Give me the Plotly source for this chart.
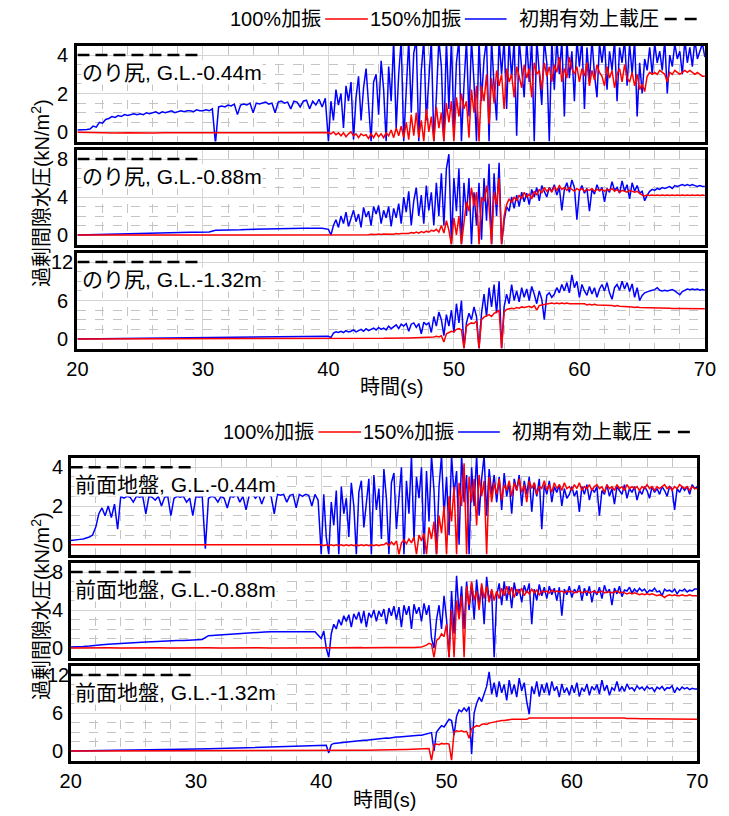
import numpy as np
import plotly.graph_objects as go

W, H = 729, 816
FONT = "Liberation Sans, Arial, Noto Sans CJK JP, sans-serif"

# ---------------- data ----------------
# Each series: quiet part (20-40 s) and active part (40-70 s), values evenly spaced in time
# のり尻 G.L.-0.44m
N044_150_A = [0.1, 0.1, 0.1, 0.12, 0.15, 0.3, 0.25, 0.5, 0.45, 0.65, 0.7,
              0.8, 0.75, 0.85, 0.8, 0.9, 0.85, 0.9, 0.95, 0.9,
              0.95, 0.9, 1.0, 0.95, 1.0, 1.05, 0.95, 1.05, 1.0, 1.05, 1.1, 1.0,
              1.05, 1.1, 1.05, 1.1, 1.1, 1.05, 1.15, 1.1, 1.1, 1.15, 1.1, 1.2,
              -0.6,
              1.3, 1.35, 1.3, 1.4, 1.35, 1.45, 0.9, 1.4, 1.45, 1.4, 1.5, 1.0,
              1.5, 1.45, 1.5, 1.55, 1.45, 1.5, 1.0, 1.55, 1.6, 1.5, 1.55, 1.2,
              1.6, 1.55, 1.3, 1.6, 1.65, 1.2, 1.6, 1.4, 1.7, 1.3, 1.75, -0.5]
N044_150_B = [-0.5, 1.6, 0.6, 2.2, 1.4, 2.0, 0.2, 2.4, 1.6, 2.6,
              -0.4, 1.8, 2.9, 0.6, 2.3, 3.3, 1.2, -0.5, 2.6, 3.0,
              0.9, 3.7, 2.2, -0.5, 3.4, 1.6, 4.8, 0.2, 3.0, 4.8,
              -0.5, 2.2, 4.8, 1.0, 4.1, 4.8, -0.5, 3.2, 4.8, 0.6,
              2.6, 4.8, -0.5, 1.8, 4.8, 3.4, -0.5, 4.8, 1.2, 4.8,
              0.2, 3.6, 4.8, -0.5, 2.4, 4.8, 0.8, 4.8, 2.6, -0.5,
              4.8, 1.6, 3.8, 4.8, -0.5, 4.8, 2.4, 0.6, 4.8, 3.0,
              4.8, 1.2, 4.8, 2.8, 4.8, -0.2, 4.8, 3.4, 1.8, 4.8,
              2.6, 4.8, -0.5, 4.8, 3.2, 1.4, 4.8, 3.6, -0.5, 4.8,
              2.2, 4.8, 3.0, 4.8, 0.8, 4.8, 2.8, 4.2, 1.6, 4.8,
              3.4, 4.8, 1.2, 4.4, 2.6, 4.8, 3.0, 1.8, 4.6, 3.6,
              4.8, 2.2, 4.2, 3.2, 4.8, 1.6, 4.4, 3.6, 4.8, 2.4,
              4.6, 3.0, 4.8, 0.8, 3.6, 2.0, 3.8, 3.2, 4.4, 3.0,
              4.6, 3.6, 4.2, 3.2, 4.8, 2.0, 4.0, 3.4, 4.6, 3.8,
              4.2, 3.0, 4.8, 3.6, 4.4, 3.4, 4.8, 3.8, 4.2, 4.6, 3.9]
N044_100_A = [-0.02, -0.04, -0.05, -0.06, -0.05, -0.07, -0.06, -0.05, -0.06, -0.05, -0.04,
              -0.05, -0.05, -0.04, -0.05, -0.05, -0.04, -0.05, -0.04, -0.03, -0.03]
N044_100_B = [-0.05, -0.1, 0.0, -0.15, -0.05, -0.2, -0.05, -0.25, -0.1, 0.0,
              -0.2, -0.1, -0.3, -0.1, -0.2, -0.15, -0.35, -0.1, -0.3, -0.05,
              -0.25, -0.1, -0.3, -0.05, -0.2, 0.1, -0.3, 0.2, -0.2, 0.3,
              -0.3, 0.5, -0.4, 0.9, -0.2, 1.0, -0.3, 0.6, -0.5, 1.2,
              0.0, 0.8, -0.5, 1.3, 0.2, 1.0, -0.5, 1.5, 0.5, 1.6,
              -0.5, 1.8, 0.8, 2.0, 1.2, 1.6, -0.3, 2.2, 1.0, 2.4,
              -0.5, 2.4, 1.6, 3.0, 0.4, 2.8, 1.5, 3.2, 2.4, 3.0,
              1.2, 3.3, 2.6, 3.0, 1.8, 3.4, 2.9, 2.3, 3.5, 2.8,
              3.3, 1.8, 3.6, 3.0, 3.2, 2.2, 3.6, 2.9, 3.4, 2.6,
              3.5, 3.1, 3.9, 2.6, 3.3, 2.8, 3.9, 3.3, 3.0, 3.4,
              2.6, 3.3, 2.9, 3.6, 2.4, 3.2, 2.7, 3.5, 3.1, 2.9,
              2.4, 3.4, 2.8, 3.2, 2.3, 3.0, 3.3, 2.6, 3.5, 2.8,
              2.6, 3.1, 2.4, 3.0, 2.2, 2.5, 2.1, 2.9, 3.1, 3.0,
              3.1, 3.0, 3.2, 3.1, 3.0, 2.6, 3.1, 3.0, 3.2, 3.1,
              3.0, 3.1, 3.2, 3.1, 3.2, 3.1, 3.0, 3.1, 3.0, 2.9, 2.9]

# のり尻 G.L.-0.88m
N088_150_A = [0.0, 0.02, 0.05, 0.05, 0.08, 0.1, 0.1, 0.12, 0.15, 0.15,
              0.18, 0.2, 0.2, 0.22, 0.25, 0.25, 0.28, 0.28, 0.3, 0.3,
              0.3, 0.32, 0.5, 0.5, 0.52, 0.55, 0.55, 0.58, 0.6, 0.6,
              0.62, 0.62, 0.65, 0.65, 0.68, 0.68, 0.7, 0.7, 0.72, 0.72, 0.6]
N088_150_B = [0.6, 0.0, 1.0, 1.6, 0.8, 2.0, 1.2, 2.4, 0.9, 1.8,
              2.6, 1.4, 2.2, 0.8, 2.9, 1.9, 2.5, 1.0, 3.0, 2.2,
              3.1, 1.2, 2.6, 1.8, 3.0, 0.9, 2.8, 1.8, 3.3, 1.2,
              4.0, 2.4, 4.6, 1.0, 3.6, 5.0, 2.0, 4.2, 1.2, 5.2,
              2.6, 4.5, 1.0, 5.5, 2.0, 6.5, 1.0, 7.0, 8.5, -1.0,
              6.0, 2.5, 7.0, -1.0, 5.5, 2.0, 6.0, -1.0, 4.5, 1.0,
              5.5, -0.5, 6.0, 1.5, 7.5, -1.0, 6.5, 2.0, 7.6, -1.0,
              1.5, 3.0, 2.5, 4.0, 2.8, 4.2, 3.0, 4.5, 3.5, 4.4,
              3.2, 4.8, 4.0, 5.0, 3.6, 5.2, 4.5, 4.0, 5.0, 4.6,
              5.3, 4.2, 5.0, 2.6, 4.8, 5.5, 4.5, 5.8, 5.0, 1.6,
              4.6, 5.2, 4.4, 4.9, 2.5, 4.8, 4.3, 5.3, 4.6, 5.0,
              3.5, 4.9, 4.5, 5.6, 4.7, 5.0, 4.4, 5.7, 4.6, 5.3,
              3.8, 5.5, 4.6, 5.2, 4.4, 4.6, 3.6, 4.2, 4.6, 4.8,
              4.7, 4.9, 4.8, 5.0, 4.9, 5.0, 5.1, 4.9, 5.2, 5.1,
              5.2, 5.3, 5.2, 5.3, 5.2, 5.3, 5.2, 5.1, 5.2, 5.1, 5.1]
N088_100_A = [0.0, 0.0, 0.0, 0.02, 0.0, 0.02, 0.0, 0.02, 0.0, 0.02, 0.02,
              0.0, 0.02, 0.02, 0.0, 0.02, 0.02, 0.02, 0.0, 0.02, 0.02]
N088_100_B = [0.02, 0.0, 0.05, 0.0, 0.05, 0.02, 0.05, 0.0, 0.05, 0.02,
              0.05, 0.0, 0.05, 0.02, 0.05, 0.05, 0.02, 0.08, 0.05, 0.05,
              0.1, 0.05, 0.1, 0.08, 0.1, 0.1, 0.08, 0.15, 0.1, 0.15,
              0.15, 0.2, 0.15, 0.25, 0.2, 0.3, 0.2, 0.35, 0.25, 0.4,
              0.3, 0.5, 0.4, 0.6, 0.3, 1.0, 0.2, 1.5, 0.5, -1.0,
              1.8, 0.0, 2.0, -1.0, 1.5, 3.5, 2.5, 5.0, 3.0, 4.5,
              -1.0, 4.0, 3.5, 5.2, 3.0, -1.0, 4.5, 3.2, 6.0, -1.0,
              2.0, 3.2, 3.8, 3.4, 4.0, 3.6, 4.2, 3.8, 4.5, 4.0,
              4.3, 3.8, 4.6, 4.2, 4.8, 4.4, 5.0, 4.6, 4.9, 4.5,
              5.1, 4.7, 5.2, 4.8, 5.0, 4.7, 5.0, 4.8, 4.6, 4.9,
              4.7, 4.9, 4.6, 4.8, 4.7, 4.9, 4.6, 4.8, 4.7, 4.8,
              4.6, 4.8, 4.7, 4.9, 4.6, 4.8, 4.5, 4.7, 4.6, 4.5,
              4.7, 4.6, 4.5, 4.6, 4.4, 4.2, 4.1, 4.2, 4.15, 4.2,
              4.15, 4.2, 4.15, 4.2, 4.15, 4.2, 4.15, 4.2, 4.15, 4.2,
              4.15, 4.2, 4.15, 4.2, 4.15, 4.2, 4.15, 4.2, 4.15, 4.2, 4.15]

# のり尻 G.L.-1.32m
N132_150_A = [0.0, 0.02, 0.05, 0.08, 0.1, 0.12, 0.15, 0.17, 0.2, 0.22, 0.25,
              0.27, 0.28, 0.3, 0.3, 0.32, 0.33, 0.35, 0.35, 0.37, 0.4]
N132_150_B = [0.4, 0.2, 0.9, 1.1, 1.0, 1.2, 1.0, 1.3, 1.1, 1.2,
              1.4, 1.1, 1.3, 1.5, 1.2, 1.6, 1.3, 1.5, 1.7, 1.4,
              1.8, 1.5, 1.7, 1.4, 2.0, 1.6, 1.9, 2.2, 1.6, 2.3,
              2.0, 2.4, 1.2, 2.3, 2.5, 1.8, 2.4, 0.8, 2.6, 2.2,
              2.5, 1.0, 3.5, 2.0, 4.2, 3.0, 0.5, 3.8, 2.0, 4.5,
              1.0, 5.5, 2.5, 6.0, -1.5, 2.5, 4.0, 3.0, 5.0, 3.5,
              -1.5, 4.0, 7.0, 3.5, 8.0, 5.0, 8.5, 4.0, 9.0, -1.5,
              5.0, 7.0, 5.5, 8.5, 6.0, 7.5, 5.8, 8.0, 6.5, 7.8,
              6.0, 8.2, 7.0, 5.5, 7.5, 6.2, 3.0, 6.8, 7.2, 6.5,
              7.0, 8.0, 7.2, 8.5, 7.5, 8.8, 7.2, 10.0, 8.0, 9.0,
              6.5, 8.5, 7.5, 6.8, 8.2, 7.0, 8.0, 6.5, 7.8, 8.5,
              7.5, 8.8, 7.2, 6.2, 8.0, 8.5, 7.6, 9.0, 7.8, 8.8,
              7.4, 8.6, 6.5, 8.0, 6.0, 6.8, 7.2, 7.4, 7.5, 7.6,
              7.7, 8.0, 7.6, 7.5, 7.6, 7.5, 7.6, 7.7, 7.5, 7.2,
              6.9, 7.4, 7.6, 7.8, 7.7, 7.8, 7.7, 7.8, 7.6, 7.7, 7.6]
N132_100_A = [0.0, 0.0, 0.02, 0.0, 0.02, 0.0, 0.02, 0.02, 0.0, 0.02, 0.02,
              0.02, 0.0, 0.02, 0.02, 0.03, 0.02, 0.03, 0.02, 0.03, 0.03]
N132_100_B = [0.03, 0.05, 0.03, 0.05, 0.05, 0.05, 0.06, 0.05, 0.07, 0.06,
              0.07, 0.08, 0.07, 0.08, 0.08, 0.09, 0.08, 0.1, 0.09, 0.1,
              0.1, 0.11, 0.1, 0.12, 0.11, 0.12, 0.13, 0.12, 0.14, 0.13,
              0.14, 0.15, 0.14, 0.15, 0.16, 0.15, 0.17, 0.16, 0.18, 0.17,
              0.2, 0.25, 0.3, 0.4, 0.3, 0.5, -0.5, 0.8, 1.0, 1.2,
              1.1, 1.5, 1.6, 1.4, -1.5, 2.0, 2.3, 2.5, 2.4, 2.8,
              -1.5, 3.0, 3.4, 3.6, 3.8, 3.5, 4.0, 4.2, 4.5, -1.5,
              4.2, 4.6, 4.7, 4.8, 4.7, 4.9, 4.8, 5.0, 4.9, 5.0,
              5.1, 4.9, 5.2, 4.5, 5.2, 5.3, 5.4, 5.5, 5.5, 5.6,
              5.5, 5.6, 5.5, 5.6, 5.5, 5.6, 5.5, 5.5, 5.4, 5.5,
              5.4, 5.4, 5.5, 5.3, 5.4, 5.3, 5.4, 5.3, 5.3, 5.3,
              5.2, 5.3, 5.2, 5.2, 5.1, 5.2, 5.1, 5.1, 5.0, 5.1,
              5.0, 5.0, 4.9, 5.0, 4.9, 4.9, 4.9, 4.8, 4.9, 4.8,
              4.8, 4.8, 4.8, 4.8, 4.8, 4.8, 4.8, 4.75, 4.8, 4.75,
              4.75, 4.75, 4.75, 4.7, 4.75, 4.7, 4.7, 4.7, 4.7, 4.7, 4.7]

# 前面地盤 G.L.-0.44m
Z044_150_A = [0.22, 0.25, 0.25, 0.28, 0.3, 0.35, 0.4, 0.5, 0.9, 1.6, 1.9, 1.5,
              2.0, 1.4, 2.1, 0.8, 2.5, 2.4, 2.5, 2.45, 2.2, 2.5, 2.45, 2.5,
              1.6, 2.5, 2.45, 2.3, 2.5, 2.0, 2.45, 2.5, 1.5, 2.4, 2.5, 2.45,
              2.5, 2.2, 2.4, 1.5, 2.5, 2.45, 2.5, -0.2, 2.4, 2.5, 2.45, 2.2,
              2.5, 2.4, 1.9, 2.5, 2.45, 2.6, 2.2, 2.5, 1.8, 2.55, 2.6, 2.4,
              2.6, 2.1, 2.55, 2.6, 2.5, 1.6, 2.6, 2.55, 2.6, 2.2, 2.55, 2.6,
              1.9, 2.6, 2.5, 2.6, 2.55, 2.0, 2.6, 2.3, -0.5]
Z044_150_B = [-0.5, 2.6, 0.4, -0.5, 2.2, 1.0, 2.8, -0.5, 3.0, 1.6,
              2.4, 0.4, 3.2, 2.0, -0.5, 2.7, 3.3, 0.9, 2.2, 3.4,
              -0.5, 3.6, 1.8, 2.9, 0.3, 3.9, 2.4, -0.5, 3.2, 3.7,
              0.8, 2.6, 4.0, -0.5, 3.3, 1.6, 4.6, 0.2, 3.5, 2.4,
              4.0, -0.5, 3.8, 1.2, 4.6, 2.8, -0.5, 3.0, 4.6, 1.5,
              3.5, 0.5, 4.6, 2.6, 3.8, 0.0, 4.6, 2.2, 3.6, -0.5,
              4.0, 2.0, 4.6, 1.5, 3.4, 4.6, 1.5, 3.9, 2.6, 3.6,
              2.2, 3.5, 1.8, 3.7, 2.5, 3.2, 1.6, 3.4, 2.8, 3.6,
              2.0, 3.3, 2.6, 3.5, 1.7, 3.2, 2.5, 3.4, 0.8, 3.1,
              2.6, 3.3, 2.2, 3.0, 2.7, 3.1, 2.0, 2.9, 2.4, 2.6,
              3.0, 2.5, 2.8, 1.7, 3.0, 2.6, 3.1, 2.3, 2.9, 2.7,
              3.0, 1.5, 2.8, 2.6, 3.1, 2.5, 2.9, 2.1, 3.0, 2.8,
              2.6, 3.1, 2.4, 2.9, 2.7, 3.0, 2.3, 2.8, 2.6, 3.0,
              2.8, 2.4, 3.0, 2.7, 2.9, 2.6, 3.0, 2.8, 2.5, 3.0,
              2.9, 1.8, 2.9, 2.7, 3.0, 2.8, 3.0, 2.6, 3.1, 2.9, 3.0]
Z044_100_A = [0.0, 0.0, 0.0, 0.0, 0.0, 0.0, 0.0, 0.0, 0.0, 0.0, 0.0,
              0.0, 0.0, 0.0, 0.0, 0.0, 0.0, 0.0, 0.0, 0.0, 0.0]
Z044_100_B = [0.0, -0.05, 0.0, -0.05, 0.0, -0.05, 0.0, -0.05, 0.0, -0.05,
              0.0, -0.05, 0.0, -0.05, 0.0, -0.05, 0.0, -0.05, 0.0, -0.05,
              0.0, -0.05, 0.0, -0.05, 0.0, 0.0, 0.1, -0.05, 0.15, 0.0,
              0.2, -0.5, 0.1, 0.25, 0.05, 0.3, 0.1, 0.4, -0.5, 0.5,
              0.2, 0.6, -0.5, 0.9, 0.3, 1.2, -0.5, 1.5, 0.6, 2.0,
              -0.5, 2.5, 1.2, 3.0, -0.5, 3.2, 2.0, 4.2, -0.5, 3.5,
              2.2, 3.4, 1.0, 3.6, 2.5, 3.3, -0.5, 3.5, 2.2, 3.2,
              2.6, 3.4, 2.3, 3.1, 2.8, 3.3, 2.5, 3.2, 2.8, 3.4,
              2.7, 3.1, 2.2, 3.3, 2.9, 3.2, 2.6, 3.0, 2.9, 3.3,
              2.8, 3.1, 2.7, 3.2, 2.9, 3.1, 2.8, 3.2, 2.9, 3.0,
              2.8, 3.1, 2.9, 3.2, 2.8, 3.0, 2.9, 3.1, 2.8, 3.0,
              3.1, 2.9, 3.0, 2.7, 3.1, 2.9, 3.0, 2.8, 3.1, 2.9,
              3.0, 2.8, 3.1, 2.9, 3.0, 2.9, 3.0, 2.8, 3.0, 2.9,
              3.1, 2.9, 3.0, 2.8, 3.0, 2.9, 3.0, 3.1, 2.9, 3.0,
              2.8, 3.0, 2.9, 3.1, 3.0, 2.9, 3.0, 2.8, 3.0, 2.9, 2.9]

# 前面地盤 G.L.-0.88m
Z088_150_A = [0.1, 0.1, 0.15, 0.2, 0.3, 0.35, 0.4, 0.45, 0.5, 0.52,
              0.55, 0.6, 0.62, 0.65, 0.7, 0.72, 0.75, 0.78, 0.8, 0.82,
              0.85, 0.9, 1.3, 1.35, 1.4, 1.45, 1.5, 1.55, 1.6, 1.62,
              1.65, 1.68, 1.7, 1.7, 1.7, 1.72, 1.7, 1.72, 1.7, 1.72, 1.0]
Z088_150_B = [1.0, 1.8, 0.0, -1.0, 1.5, 2.5, 2.0, 3.0, 2.4, 3.4,
              2.8, 3.5, 2.2, 3.6, 3.0, 3.8, 2.6, 3.9, 2.2, 3.7,
              3.2, 4.0, 2.8, 3.9, 3.3, 4.1, 2.5, 4.2, 3.4, 4.4,
              3.0, 4.3, 2.2, 4.5, 3.5, 4.4, 2.0, 4.6, 3.6, 4.3,
              2.8, 4.7, 3.5, 4.5, 1.0, 0.0, 3.0, 4.5, 2.0, 5.5,
              3.0, -1.0, 6.0, 1.5, 7.6, 3.5, 6.5, 2.0, 7.0, 4.0,
              6.8, 3.0, 7.2, 4.5, 6.5, 2.5, 7.5, 5.0, 6.0, -1.0,
              5.5, 6.8, 4.5, 7.0, 5.0, 6.5, 4.2, 6.9, 5.5, 6.2,
              4.8, 6.6, 5.8, 6.8, 2.5, 6.2, 5.0, 6.7, 5.5, 6.4,
              5.2, 6.5, 5.6, 6.3, 5.0, 6.4, 3.4, 6.2, 5.6, 6.5,
              5.3, 6.2, 5.8, 6.6, 5.0, 6.3, 5.5, 6.5, 4.8, 6.1,
              5.6, 6.4, 5.2, 6.6, 5.8, 6.2, 4.5, 6.3, 5.7, 6.5,
              5.4, 6.1, 6.0, 6.4, 5.8, 6.2, 5.9, 6.3, 6.0, 6.2,
              5.8, 6.1, 6.0, 6.3, 5.9, 6.0, 5.5, 6.2, 6.0, 6.1,
              5.9, 6.2, 5.7, 6.1, 6.0, 6.2, 5.9, 6.1, 6.0, 6.2, 6.2]
Z088_100_A = [0.0, 0.02, 0.0, 0.02, 0.0, 0.02, 0.0, 0.02, 0.0, 0.02, 0.0,
              0.02, 0.0, 0.02, 0.0, 0.02, 0.0, 0.02, 0.0, 0.02, 0.02]
Z088_100_B = [0.02, 0.03, 0.02, 0.03, 0.02, 0.03, 0.03, 0.02, 0.03, 0.03,
              0.03, 0.04, 0.03, 0.04, 0.03, 0.04, 0.04, 0.03, 0.04, 0.04,
              0.04, 0.05, 0.04, 0.05, 0.04, 0.05, 0.05, 0.04, 0.05, 0.05,
              0.05, 0.06, 0.05, 0.06, 0.05, 0.06, 0.06, 0.05, 0.06, 0.06,
              0.1, 0.2, 0.3, 0.5, 0.4, -1.0, 0.8, 1.0, 1.5, 1.2,
              2.5, -1.0, 4.0, -1.0, 5.0, 3.0, 5.5, -1.0, 6.5, 4.5,
              7.0, 5.0, 6.0, 4.0, 6.8, 5.2, 6.5, 4.8, 6.2, 5.0,
              6.0, 5.2, 6.3, 5.5, 6.5, 5.6, 6.4, 5.3, 6.2, 5.8,
              6.3, 5.5, 6.0, 5.7, 6.2, 5.8, 6.1, 5.6, 6.0, 5.9,
              6.0, 5.8, 6.1, 5.9, 6.0, 5.9, 6.0, 5.8, 6.0, 5.9,
              6.0, 5.8, 5.9, 6.0, 5.8, 5.9, 6.0, 5.8, 5.9, 6.0,
              5.8, 5.9, 6.0, 5.8, 5.9, 5.9, 5.8, 5.9, 6.0, 5.8,
              5.9, 5.8, 5.7, 5.8, 5.7, 5.8, 5.7, 5.6, 5.7, 5.6,
              5.7, 5.6, 5.7, 5.6, 5.5, 5.6, 5.5, 5.3, 5.5, 5.6,
              5.5, 5.6, 5.5, 5.5, 5.6, 5.5, 5.5, 5.6, 5.5, 5.5, 5.5]

# 前面地盤 G.L.-1.32m
Z132_150_A = [0.0, 0.02, 0.05, 0.08, 0.1, 0.12, 0.15, 0.2, 0.22, 0.25, 0.3,
              0.35, 0.4, 0.45, 0.5, 0.55, 0.6, 0.65, 0.7, 0.75, 0.8]
Z132_150_B = [0.85, 0.9, 0.9, -0.3, 1.0, 1.2, 1.25, 1.3, 1.3, 1.35,
              1.4, 1.45, 1.5, 1.5, 1.55, 1.6, 1.65, 1.7, 1.7, 1.75,
              1.8, 1.85, 1.9, 1.85, 1.95, 2.0, 2.05, 2.0, 2.1, 2.15,
              2.2, 2.2, 2.25, 2.3, 2.3, 2.35, 2.4, 2.4, 2.45, 2.5,
              2.5, 2.6, 2.7, 2.8, 2.9, 0.0, 3.0, 3.5, 4.0, 3.8,
              4.5, 5.0, 4.8, 2.5, 5.5, 6.5, 6.2, 6.8, 6.3, 7.0,
              -0.5, 6.0, 7.5, 8.5, 7.8, 9.0, 10.2, 12.5, 9.0, 10.8,
              8.5, 11.0, 9.2, 10.5, 8.0, 11.2, 9.0, 10.5, 8.5, 11.5,
              9.5, 10.8, 7.8, 5.8, 10.2, 9.0, 11.0, 8.6, 10.5, 9.2,
              10.8, 8.8, 11.0, 9.5, 10.2, 8.5, 10.6, 9.2, 10.0, 8.8,
              10.4, 9.2, 10.8, 8.6, 10.0, 9.4, 10.6, 8.8, 10.2, 9.6,
              10.5, 9.0, 11.2, 9.5, 10.4, 8.8, 10.0, 9.6, 11.0, 9.4,
              10.2, 9.4, 10.6, 9.8, 10.0, 9.5, 10.3, 9.8, 10.1, 9.6,
              10.2, 9.8, 10.0, 9.4, 10.1, 9.8, 10.2, 9.6, 10.0, 9.9,
              10.3, 9.2, 10.0, 9.6, 10.1, 9.8, 10.0, 9.7, 9.9, 9.8, 9.8]
Z132_100_A = [0.0, 0.0, 0.0, 0.0, 0.0, 0.0, 0.0, 0.0, 0.0, 0.0, 0.0,
              0.0, 0.0, 0.0, 0.0, 0.0, 0.0, 0.0, 0.0, 0.0, 0.0]
Z132_100_B = [0.0, 0.01, 0.02, 0.02, 0.03, 0.03, 0.04, 0.05, 0.05, 0.06,
              0.06, 0.07, 0.08, 0.08, 0.09, 0.1, 0.1, 0.11, 0.12, 0.12,
              0.13, 0.14, 0.14, 0.15, 0.16, 0.17, 0.17, 0.18, 0.19, 0.2,
              0.2, 0.21, 0.22, 0.23, 0.24, 0.25, 0.26, 0.27, 0.28, 0.29,
              0.3, 0.35, 0.3, 0.4, -1.5, 1.0, 1.1, 1.0, 1.2, 1.1,
              1.2, 1.1, -1.5, 3.0, 3.2, 3.1, 3.2, 3.0, 3.1, 2.0,
              3.5, 3.8, 4.0, 3.9, 4.2, 4.3, 4.2, 4.4, 4.5, 4.6,
              4.6, 4.7, 4.8, 4.8, 4.9, 4.9, 5.0, 5.0, 5.0, 5.1,
              5.1, 5.1, 5.0, 5.2, 5.2, 5.2, 5.2, 5.25, 5.2, 5.25,
              5.25, 5.25, 5.25, 5.3, 5.25, 5.3, 5.25, 5.3, 5.3, 5.25,
              5.3, 5.25, 5.3, 5.3, 5.25, 5.3, 5.25, 5.3, 5.25, 5.25,
              5.3, 5.25, 5.25, 5.2, 5.25, 5.25, 5.2, 5.25, 5.2, 5.2,
              5.2, 5.2, 5.15, 5.2, 5.15, 5.15, 5.1, 5.15, 5.1, 5.1,
              5.1, 5.05, 5.1, 5.05, 5.05, 5.05, 5.0, 5.05, 5.0, 5.0,
              5.0, 5.0, 5.0, 5.0, 5.0, 5.0, 5.0, 5.0, 5.0, 5.0, 5.0]

OVERBURDEN = [4, 8, 12]          # 初期有効上載圧 for G.L.-0.44 / -0.88 / -1.32 m
OVERBURDEN_T = [20, 30]          # time span of the dashed reference line
QUIET_T = [20, 40]
ACTIVE_T = [40, 70]

LABELS = ["のり尻, G.L.-0.44m", "のり尻, G.L.-0.88m", "のり尻, G.L.-1.32m",
          "前面地盤, G.L.-0.44m", "前面地盤, G.L.-0.88m", "前面地盤, G.L.-1.32m"]
SERIES_150 = [(N044_150_A, N044_150_B), (N088_150_A, N088_150_B), (N132_150_A, N132_150_B),
              (Z044_150_A, Z044_150_B), (Z088_150_A, Z088_150_B), (Z132_150_A, Z132_150_B)]
SERIES_100 = [(N044_100_A, N044_100_B), (N088_100_A, N088_100_B), (N132_100_A, N132_100_B),
              (Z044_100_A, Z044_100_B), (Z088_100_A, Z088_100_B), (Z132_100_A, Z132_100_B)]
LEGEND_NAMES = ["100%加振", "150%加振", "初期有効上載圧"]
Y_TITLE = "過剰間隙水圧(kN/m<sup>2</sup>)"
X_TITLE = "時間(s)"


def build(quiet, active):
    t = list(np.linspace(QUIET_T[0], QUIET_T[1], len(quiet)))
    t += list(np.linspace(ACTIVE_T[0], ACTIVE_T[1], len(active)))
    return t, list(quiet) + list(active)


# ---------------- layout geometry (pixels) ----------------
PANELS_PX = [(44, 143), (148, 246), (251, 350), (456, 556), (561, 659), (664, 762)]
XPX = [(67, 717)] * 3 + [(60, 709)] * 3
YLAB_CX = [53, 53, 53, 48, 48, 48]   # centre x of the (centre-aligned) y tick labels

fig = go.Figure()
layout = dict(width=W, height=H, margin=dict(l=0, r=0, t=0, b=0),
              paper_bgcolor="white", plot_bgcolor="white", showlegend=False,
              font=dict(family=FONT, size=20, color="black"))
annotations = []
shapes = []

for i in range(6):
    k = "" if i == 0 else str(i + 1)
    ob = OVERBURDEN[i % 3]
    top, bot = PANELS_PX[i]
    xl, xr = XPX[i]
    ydom = [1 - (bot - 1.5) / H, 1 - (top + 1.5) / H]
    xdom = [(xl + 1.5) / W, (xr - 1.5) / W]
    major = ob / 2
    layout["xaxis" + k] = dict(
        domain=xdom, range=[20, 70], anchor="y" + k, tick0=20, dtick=10,
        showline=True, mirror=True, linewidth=3, linecolor="black",
        showgrid=True, gridcolor="#d4d4d4", gridwidth=1, zeroline=False,
        ticks="", showticklabels=(i % 3 == 2), tickfont=dict(size=20, family=FONT),
        minor=dict(dtick=2, showgrid=True, gridcolor="#c4c4c4", griddash="dash", gridwidth=1),
    )
    layout["yaxis" + k] = dict(
        domain=ydom, range=[-ob / 8, ob * 9 / 8], anchor="x" + k, tick0=0, dtick=major,
        showline=True, mirror=True, linewidth=3, linecolor="black",
        showgrid=True, gridcolor="#d4d4d4", gridwidth=1, zeroline=False,
        ticks="", showticklabels=False,
        minor=dict(dtick=major / 4, showgrid=True, gridcolor="#c4c4c4", griddash="dash", gridwidth=1),
    )
    # centre-aligned y tick labels placed on the axis scale
    for v in (0, major, ob):
        annotations.append(dict(text=str(int(v)), xref="paper", yref="y" + k,
                                x=YLAB_CX[i] / W, y=v, xanchor="center", yanchor="middle",
                                showarrow=False, font=dict(size=20, family=FONT)))
    tb, vb = build(*SERIES_150[i])
    tr, vr = build(*SERIES_100[i])
    fig.add_trace(go.Scatter(x=tb, y=vb, mode="lines", name=LEGEND_NAMES[1],
                             line=dict(color="#0000ff", width=1.5), xaxis="x" + k, yaxis="y" + k))
    fig.add_trace(go.Scatter(x=tr, y=vr, mode="lines", name=LEGEND_NAMES[0],
                             line=dict(color="#ff0000", width=1.5), xaxis="x" + k, yaxis="y" + k))
    fig.add_trace(go.Scatter(x=OVERBURDEN_T, y=[ob, ob], mode="lines", name=LEGEND_NAMES[2],
                             line=dict(color="black", width=2.5, dash="12px,6px"),
                             xaxis="x" + k, yaxis="y" + k))
    annotations.append(dict(text=LABELS[i], xref="x" + k + " domain", yref="y" + k + " domain",
                            x=0.006, y=0.72, xanchor="left", yanchor="middle", showarrow=False,
                            font=dict(size=21, family=FONT), bgcolor="white", borderpad=0))

# axis titles
for (ycen, xcen, xt_y) in [(193, 392, 387), (606, 385, 800)]:
    annotations.append(dict(text=Y_TITLE, xref="paper", yref="paper", x=30 / W, y=1 - ycen / H,
                            textangle=-90, showarrow=False, xanchor="center", yanchor="middle",
                            font=dict(size=20, family=FONT)))
    annotations.append(dict(text=X_TITLE, xref="paper", yref="paper", x=xcen / W, y=1 - xt_y / H,
                            showarrow=False, xanchor="center", yanchor="middle",
                            font=dict(size=20, family=FONT)))

# custom legends (text followed by line sample)
for (ly, dx) in [(19, 0), (432, -7)]:
    items = [(LEGEND_NAMES[0], 322, 368, "#ff0000", "solid"),
             (LEGEND_NAMES[1], 466, 511, "#0000ff", "solid"),
             (LEGEND_NAMES[2], 670, 715, "black", "dash")]
    for name, tx, lx1, col, dash in items:
        annotations.append(dict(text=name, xref="paper", yref="paper", x=(tx + dx) / W, y=1 - ly / H,
                                xanchor="right", yanchor="middle", showarrow=False,
                                font=dict(size=20, family=FONT)))
        if dash == "solid":
            shapes.append(dict(type="line", xref="paper", yref="paper",
                               x0=(tx + dx + 2) / W, x1=(lx1 + dx) / W, y0=1 - ly / H, y1=1 - ly / H,
                               line=dict(color=col, width=1.5)))
        else:
            shapes.append(dict(type="line", xref="paper", yref="paper",
                               x0=(tx + dx + 4) / W, x1=(lx1 + dx) / W, y0=1 - ly / H, y1=1 - ly / H,
                               line=dict(color=col, width=2.5, dash="12px,8px")))

layout["annotations"] = annotations
layout["shapes"] = shapes
fig.update_layout(**layout)
fig.write_html("out.html", config={"displayModeBar": False},
               post_script="document.body.style.margin='0';document.body.style.overflow='hidden';")
